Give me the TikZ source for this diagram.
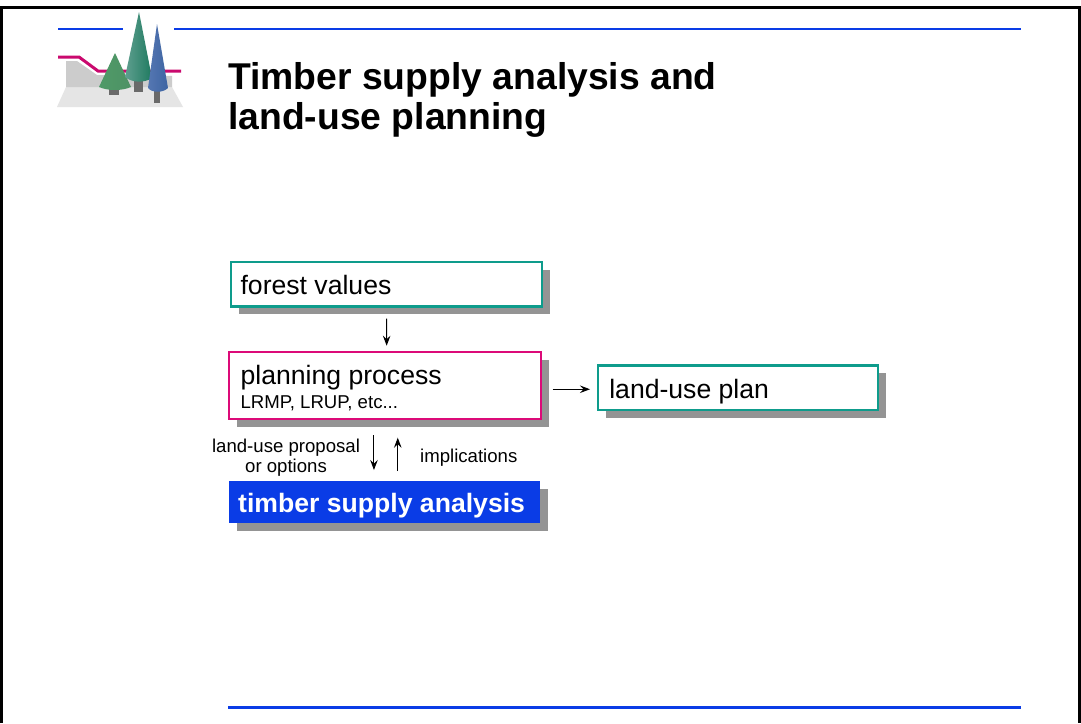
\documentclass[tikz,border=0pt]{standalone}
\usepackage{fontspec}
\setmainfont{Liberation Sans}
\usetikzlibrary{shadows,arrows.meta}
\definecolor{bluec}{HTML}{0A3CE6}
\definecolor{tealc}{HTML}{0E9C8C}
\definecolor{magc}{HTML}{DC0A78}
\definecolor{shadc}{HTML}{949494}
\definecolor{trunkc}{HTML}{6A6A6A}
\definecolor{smA}{HTML}{4F9A68}\definecolor{smB}{HTML}{74AE88}\definecolor{smC}{HTML}{4E9264}
\definecolor{mdA}{HTML}{5F9F8F}\definecolor{mdB}{HTML}{6FA898}\definecolor{mdC}{HTML}{1F7A60}
\definecolor{blA}{HTML}{5577B2}\definecolor{blB}{HTML}{7494C6}\definecolor{blC}{HTML}{3D64A2}
\newcommand{\fs}[1]{\fontsize{#1}{#1}\selectfont\spaceskip=0pt\xspaceskip=0pt\relax}
\newcommand{\lift}[1]{\rule{0pt}{#1pt}}
\tikzset{
  x=1pt,y=-1pt,
  boxbase/.style={anchor=north west,inner xsep=10pt,inner ysep=0pt,align=left,
    general shadow={fill=shadc,shadow xshift=8pt,shadow yshift=-8pt}},
  outlinebox/.style={boxbase,fill=white,draw=#1,line width=2.2pt},
  conn/.style={-{Stealth[length=10pt,width=7.5pt,inset=3.5pt]},line width=1pt,black},
  rule/.style={bluec,line width=2.6pt},
  lab/.style={align=center,inner sep=0pt},
}
\begin{document}
\begin{tikzpicture}
\useasboundingbox (0,0) rectangle (1081,723);
\fill[white] (0,0) rectangle (1081,723);
% frame
\draw[black,line width=3pt] (1.5,723) -- (1.5,7) -- (1079.5,7) -- (1079.5,723);
% rules
\draw[rule] (58,28.8) -- (123,28.8);
\draw[rule] (174,28.8) -- (1021,28.8);
\draw[rule] (228,707.5) -- (1021,707.5);
% logo
\fill[black!10] (66,87) -- (172,87) -- (183,107) -- (57,107) -- cycle;
\fill[black!20] (66,61) -- (77,61) -- (97,75) -- (172,76) -- (172,87) -- (66,87) -- cycle;
\draw[magc!92!black,line width=3pt] (58,57) -- (79,57) -- (98,71) -- (181,71);
\fill[trunkc] (109,86) rectangle (119,95);
\shade[left color=smA,middle color=smB,right color=smC]
  (115,53) -- (131,87) .. controls (122,91) and (108,91) .. (99,87) -- cycle;
\fill[trunkc] (134,78) rectangle (143,92);
\shade[left color=mdA,middle color=mdB,right color=mdC]
  (139,12) -- (152,78) .. controls (145,83) and (132,83) .. (125,77) -- cycle;
\fill[trunkc] (154,88) rectangle (160,103);
\shade[left color=blA,middle color=blB,right color=blC]
  (157,24) -- (168,88) .. controls (163,93) and (152,93) .. (148,88) -- cycle;
% title
\node[anchor=north west,inner sep=0pt,align=left,font=\fs{37.3}\bfseries] (title) at (228,62)
  {Timber supply analysis and\\[3pt]land-use planning};
% boxes
\node[outlinebox=tealc,minimum width=311pt,minimum height=44.3pt,text width=291pt] (forest) at (229.5,261) {\fs{26.6}\lift{21.7}forest values};
\node[outlinebox=magc,minimum width=311.5pt,minimum height=66.8pt,text width=288.5pt,inner xsep=11.5pt] (planning) at (228,351)
  {\fs{26.6}\lift{24.7}planning process\\[5pt]\fs{18.6}LRMP, LRUP, etc...};
\node[outlinebox=tealc,minimum width=280pt,minimum height=44.5pt,text width=257pt,inner xsep=11.5pt] (plan) at (596.7,364.3) {\fs{26.6}\lift{27.7}land-use plan};
\node[boxbase,fill=bluec,minimum width=311pt,minimum height=42pt,text width=293pt,inner xsep=9pt,text=white] (tsa) at (229,481)
  {\fs{26.6}\bfseries\lift{25.7}timber supply analysis};
% connectors
\draw[conn,shorten <=11pt,shorten >=5.3pt] ([xshift=0.6pt]forest.south) -- ([xshift=1.8pt]planning.north);
\draw[conn,shorten <=11pt,shorten >=6.7pt] ([yshift=-1.6pt]planning.east |- plan.west) -- ([yshift=-1.6pt]plan.west);
\draw[conn,shorten <=15.3pt,shorten >=11pt] ([xshift=-10.9pt]planning.south) -- ([xshift=-10.9pt]planning.south |- tsa.north);
\draw[conn,shorten <=10pt,shorten >=17.7pt] ([xshift=12.9pt]planning.south |- tsa.north) -- ([xshift=12.9pt]planning.south);
% labels
\node[lab,font=\fs{18.6}] (lp) at (286,457.7) {land-use proposal\\[1pt]or options};
\node[lab,font=\fs{18.6},anchor=west] (imp) at (420,458) {implications};
\end{tikzpicture}
\end{document}
